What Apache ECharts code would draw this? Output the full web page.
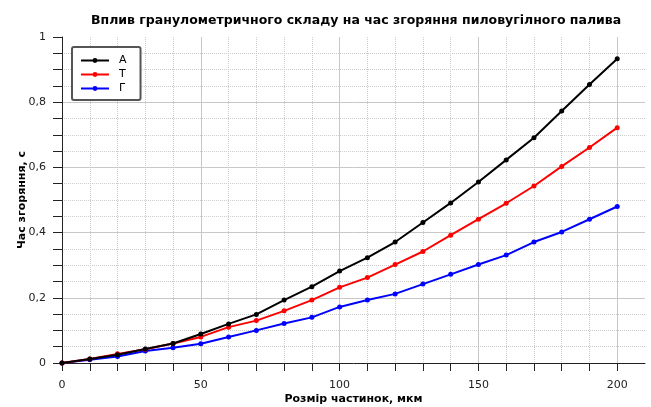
<!DOCTYPE html>
<html><head><meta charset="utf-8">
<script src="https://cdn.jsdelivr.net/npm/echarts@6/dist/echarts.min.js"></script>
<style>html,body{margin:0;padding:0;background:#fff}#c{width:651px;height:407px}</style>
</head><body><div id="c"></div>
<script>
var xValues = [0,10,20,30,40,50,60,70,80,90,100,110,120,130,140,150,160,170,180,190,200];
var seriesA = [0,0.012,0.025,0.043,0.06,0.089,0.12,0.149,0.193,0.234,0.282,0.323,0.371,0.431,0.491,0.555,0.623,0.691,0.773,0.854,0.933];
var seriesT = [0,0.012,0.028,0.042,0.06,0.08,0.11,0.13,0.16,0.193,0.232,0.262,0.302,0.342,0.392,0.441,0.49,0.543,0.603,0.661,0.722];
var seriesG = [0,0.01,0.02,0.037,0.047,0.059,0.08,0.1,0.121,0.14,0.172,0.193,0.212,0.242,0.272,0.302,0.331,0.371,0.402,0.441,0.48];
var seriesNames = ['А','Т','Г'];
var seriesColors = ['#000000','#ff0000','#0000ff'];
var titleText = 'Вплив гранулометричного складу на час згоряння пиловугілного палива';
var xName = 'Розмір частинок, мкм';
var yName = 'Час згоряння, с';

function pairs(ys){ return xValues.map(function(x,i){ return [x, ys[i]]; }); }
var FONT = 'DejaVu Sans';
function isMult(v, step){ var r = v/step; return Math.abs(r - Math.round(r)) < 1e-6; }

var chart = echarts.init(document.getElementById('c'), null, {renderer:'canvas'});
chart.setOption({
  animation:false,
  backgroundColor:'#fff',
  title:{text:titleText, left:86, top:9,
    textStyle:{fontFamily:FONT, fontSize:12.5, fontWeight:'bold', color:'#000'}},
  grid:{left:62, right:6, top:37, bottom:44, containLabel:false, outerBoundsMode:'none'},
  legend:{orient:'vertical', left:72, top:47, itemWidth:28, itemHeight:6, itemGap:1,
    padding:[7,14,5,8], borderColor:'#555', borderWidth:2, borderRadius:2, backgroundColor:'#fff',
    textStyle:{fontFamily:FONT, fontSize:11, color:'#000', padding:[0,0,0,5], lineHeight:13}, data:seriesNames},
  xAxis:[{
    type:'value', min:0, max:210, interval:10,
    name:xName, nameLocation:'middle', nameGap:31, nameMoveOverlap:false,
    nameTextStyle:{fontFamily:FONT, fontSize:11, fontWeight:'bold', color:'#000'},
    axisLine:{show:true, lineStyle:{color:'#222', width:1}},
    axisTick:{show:true, length:8, lineStyle:{color:'#222'}},
    axisLabel:{fontFamily:FONT, fontSize:11, color:'#222', margin:17, showMaxLabel:false,
      formatter:function(v){ return isMult(v,50) ? String(v) : ''; }},
    splitLine:{show:true, showMaxLine:false, lineStyle:{color:'#cdcdcd', type:[1,1], width:1}}
  },{
    type:'value', min:0, max:210, interval:50, position:'bottom',
    axisLine:{show:false}, axisTick:{show:false}, axisLabel:{show:false},
    splitLine:{show:true, showMaxLine:false, showMinLine:false, lineStyle:{color:'#c8c8c8', width:1}}
  }],
  yAxis:[{
    type:'value', min:0, max:1, interval:0.05,
    name:yName, nameLocation:'middle', nameGap:34, nameMoveOverlap:false,
    nameTextStyle:{fontFamily:FONT, fontSize:11, fontWeight:'bold', color:'#000'},
    axisLine:{show:true, lineStyle:{color:'#222', width:1}},
    axisTick:{show:true, length:9, lineStyle:{color:'#222'}},
    axisLabel:{fontFamily:FONT, fontSize:11, color:'#222', margin:16,
      formatter:function(v){ if(!isMult(v,0.2)) return ''; if(v===0) return '0'; if(Math.abs(v-1)<1e-9) return '1'; return v.toFixed(1).replace('.',','); }},
    splitLine:{show:true, showMinLine:false, showMaxLine:false, lineStyle:{color:'#cdcdcd', type:[1,1], width:1}}
  },{
    type:'value', min:0, max:1, interval:0.2, position:'left',
    axisLine:{show:false}, axisTick:{show:false}, axisLabel:{show:false},
    splitLine:{show:true, showMinLine:false, showMaxLine:false, lineStyle:{color:'#c8c8c8', width:1}}
  }],
  series:[seriesA, seriesT, seriesG].map(function(d,i){
    return {name:seriesNames[i], type:'line', xAxisIndex:0, yAxisIndex:0, data:pairs(d),
      symbol:'circle', symbolSize:5, showSymbol:true,
      lineStyle:{color:seriesColors[i], width:2}, itemStyle:{color:seriesColors[i]}, z:3-i+2};
  })
});
</script></body></html>
